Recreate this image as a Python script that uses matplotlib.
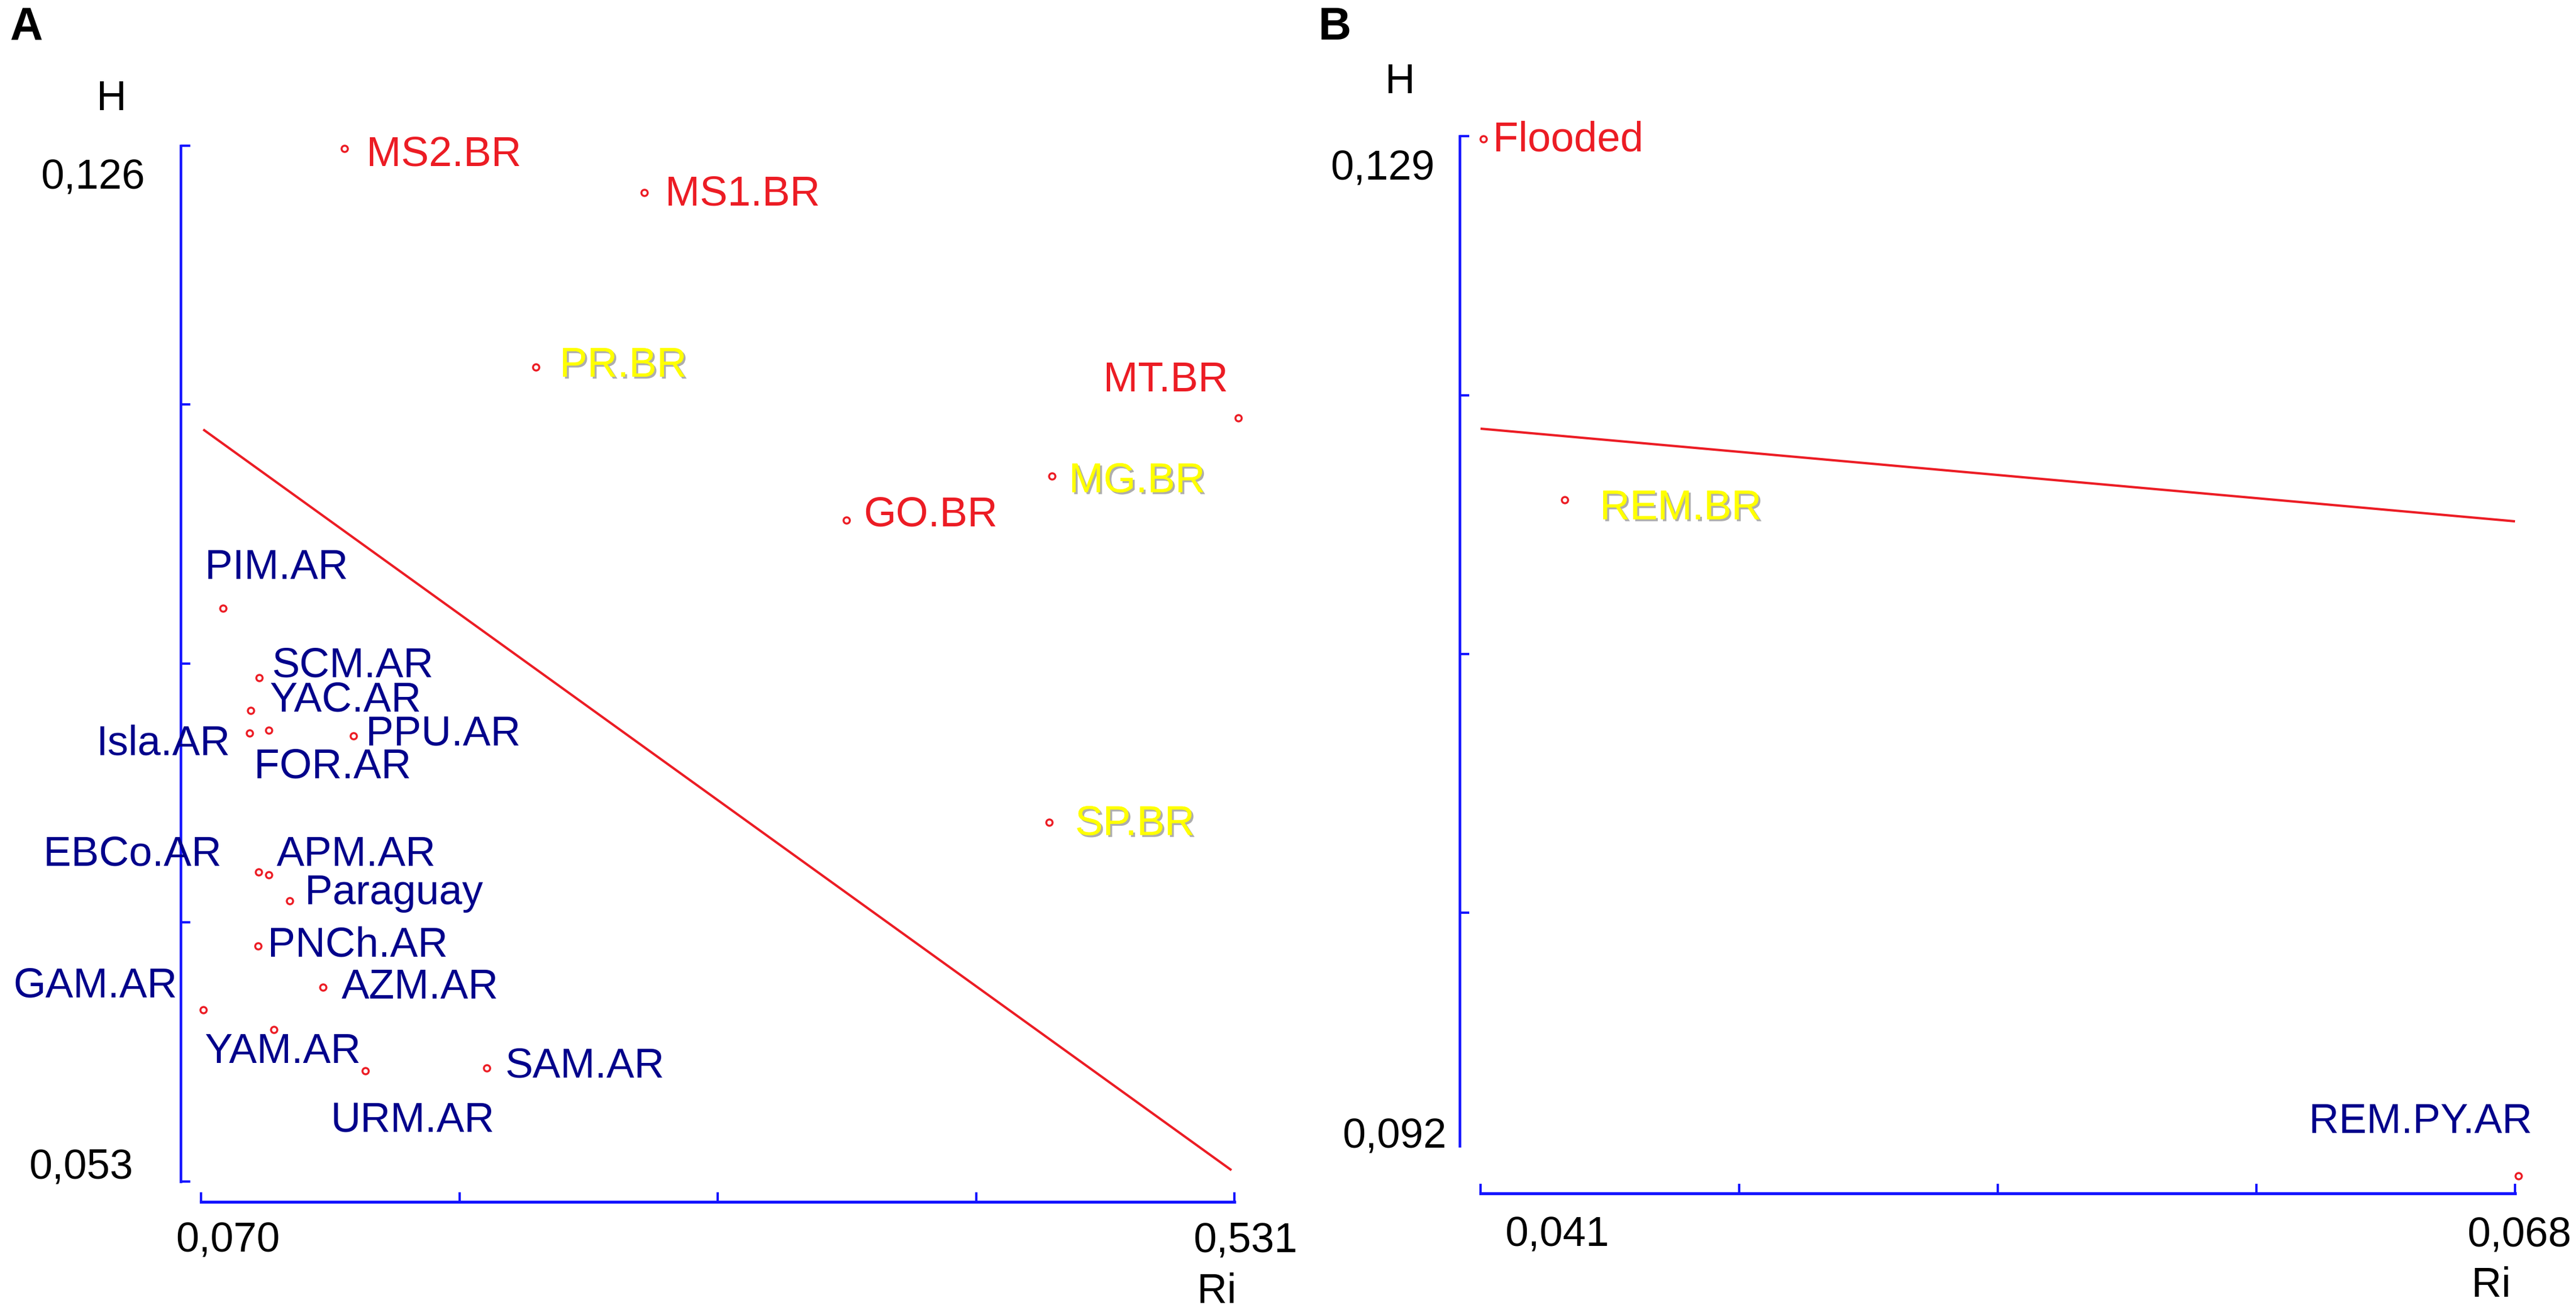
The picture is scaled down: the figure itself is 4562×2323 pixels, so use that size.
import matplotlib
matplotlib.use("Agg")
import matplotlib.pyplot as plt
import matplotlib.patheffects as pe
import numpy as np

# ---------------- data ----------------
A_sites = ['MS2.BR', 'MS1.BR', 'PR.BR', 'MT.BR', 'MG.BR', 'GO.BR', 'SP.BR',
           'PIM.AR', 'SCM.AR', 'YAC.AR', 'Isla.AR', 'FOR.AR', 'PPU.AR',
           'EBCo.AR', 'APM.AR', 'Paraguay', 'PNCh.AR', 'AZM.AR', 'GAM.AR',
           'YAM.AR', 'URM.AR', 'SAM.AR']
A_Ri = [0.1340, 0.2678, 0.2194, 0.5328, 0.4496, 0.3579, 0.4484,
        0.0798, 0.0959, 0.0922, 0.0917, 0.1002, 0.1380,
        0.0957, 0.1002, 0.1096, 0.0954, 0.1244, 0.0710,
        0.1025, 0.1433, 0.1975]
A_H = [0.1258, 0.1227, 0.1104, 0.1068, 0.1027, 0.0996, 0.0783,
       0.0934, 0.0885, 0.0862, 0.0846, 0.0848, 0.0844,
       0.0748, 0.0746, 0.0728, 0.0696, 0.0667, 0.0651,
       0.0637, 0.0608, 0.0610]
A_group = ['BR1', 'BR1', 'BR2', 'BR1', 'BR2', 'BR1', 'BR2',
           'AR', 'AR', 'AR', 'AR', 'AR', 'AR',
           'AR', 'AR', 'AR', 'AR', 'AR', 'AR',
           'AR', 'AR', 'AR']
A_fit_Ri = [0.0710, 0.5297]
A_fit_H = [0.1060, 0.0538]
A_xlim = (0.070, 0.531)
A_ylim = (0.053, 0.126)
A_xtick_labels = ['0,070', '0,531']
A_ytick_labels = ['0,126', '0,053']

B_sites = ['Flooded', 'REM.BR', 'REM.PY.AR']
B_Ri = [0.04107, 0.04320, 0.06809]
B_H = [0.1289, 0.1160, 0.09186]
B_group = ['BR1', 'BR2', 'AR']
B_fit_Ri = [0.041, 0.0680]
B_fit_H = [0.11855, 0.11524]
B_xlim = (0.041, 0.068)
B_ylim = (0.092, 0.129)
B_xtick_labels = ['0,041', '0,068']
B_ytick_labels = ['0,129', '0,092']

# ---------------- layout / style ----------------
W, H = 4562, 2323
DPI = 100
PT = 72.0 / DPI  # points per pixel
FONT = 'Liberation Sans'
FS = 53
BLUE = '#1414ff'
RED = '#ec1c24'
NAVY = '#00008b'
YELLOW = '#ffff00'
colors = {'BR1': RED, 'BR2': YELLOW, 'AR': NAVY}

A_off = [(39, 30), (37, 23), (42, 17), (-239, -47), (30, 28), (30, 10), (46, 22),
         (-32, -52), (23, -2), (33, 2), (-272, 38), (-26, 84), (22, 17),
         (-381, -12), (14, -16), (27, 6), (17, 19), (33, 20), (-337, -23),
         (-123, 59), (-62, 108), (32, 16)]
B_off = [(17, 22), (62, 34), (-371, -76)]

fig = plt.figure(figsize=(W / DPI, H / DPI), dpi=DPI)
fig.patch.set_facecolor('white')


def make_axes(px0, px1, py_top, py_bot):
    return fig.add_axes([px0 / W, (H - py_bot) / H, (px1 - px0) / W, (py_bot - py_top) / H])


def style_axes(ax, xlim, ylim, left_out, bottom_out, ybounds, yticks, xticks):
    ax.set_xlim(*xlim)
    ax.set_ylim(*ylim)
    ax.patch.set_alpha(0)
    for s in ('top', 'right'):
        ax.spines[s].set_visible(False)
    ax.spines['left'].set_position(('outward', left_out * PT))
    ax.spines['bottom'].set_position(('outward', bottom_out * PT))
    ax.spines['left'].set_bounds(*ybounds)
    ax.spines['bottom'].set_bounds(*xlim)
    ax.spines['left'].set_linewidth(3.3)
    ax.spines['bottom'].set_linewidth(3.8)
    for s in ('left', 'bottom'):
        ax.spines[s].set_color(BLUE)
    ax.set_yticks(yticks)
    ax.set_xticks(xticks)
    ax.tick_params(direction='in', length=17 * PT, width=3.0, color=BLUE,
                   labelleft=False, labelbottom=False)


def label(ax, x, y, text, dx, dy, color, ha='left', shadow=False, fs=FS):
    kw = {}
    if shadow:
        kw['path_effects'] = [pe.withSimplePatchShadow(offset=(2.5, -2.5), shadow_rgbFace='#777777', alpha=0.6),
                              pe.Normal()]
    ax.annotate(text, (x, y), xytext=(dx * PT, -dy * PT), textcoords='offset points',
                ha=ha, va='baseline', color=color, fontsize=fs, family=FONT,
                annotation_clip=False, **kw)


def draw_panel(ax, sites, ri, h, groups, offs, fit_x, fit_y):
    ax.plot(fit_x, fit_y, color=RED, lw=3.0, solid_capstyle='butt', clip_on=False, zorder=2)
    ax.plot(ri, h, linestyle='none', marker='o', ms=8, mfc='none', mec=RED, mew=2.5,
            clip_on=False, zorder=3)
    for s, x, y, g, (dx, dy) in zip(sites, ri, h, groups, offs):
        label(ax, x, y, s, dx, dy, colors[g], shadow=(g == 'BR2'))


# ---------------- panel A ----------------
axA = make_axes(356, 2186, 258, 2092)
style_axes(axA, A_xlim, A_ylim, 36, 36, A_ylim,
           np.linspace(A_ylim[0], A_ylim[1], 5), np.linspace(A_xlim[0], A_xlim[1], 5))
draw_panel(axA, A_sites, A_Ri, A_H, A_group, A_off, A_fit_Ri, A_fit_H)
label(axA, A_xlim[0], A_ylim[1], A_ytick_labels[0], -99, 77, 'black', ha='right')
label(axA, A_xlim[0], A_ylim[0], A_ytick_labels[1], -120, -5, 'black', ha='right')
label(axA, A_xlim[0], A_ylim[0], A_xtick_labels[0], 47, 124, 'black', ha='center')
label(axA, A_xlim[1], A_ylim[0], A_xtick_labels[1], 19, 124, 'black', ha='center')
label(axA, A_xlim[1], A_ylim[0], 'Ri', -66, 215, 'black')
label(axA, A_xlim[0], A_ylim[1], 'H', -185, -63, 'black')

# ---------------- panel B ----------------
axB = make_axes(2622, 4454, 241, 2075)
B_step = (B_ylim[1] - B_ylim[0]) / 4
B_spine_low = B_ylim[0] + (2075 - 2029) / 1834 * (B_ylim[1] - B_ylim[0])
style_axes(axB, B_xlim, B_ylim, 37, 38, (B_spine_low, B_ylim[1]),
           [B_ylim[1] - i * B_step for i in range(4)], np.linspace(B_xlim[0], B_xlim[1], 5))
draw_panel(axB, B_sites, B_Ri, B_H, B_group, B_off, B_fit_Ri, B_fit_H)
label(axB, B_xlim[0], B_ylim[1], B_ytick_labels[0], -81, 78, 'black', ha='right')
label(axB, B_xlim[0], B_ylim[0], B_ytick_labels[1], -60, -42, 'black', ha='right')
label(axB, B_xlim[0], B_ylim[0], B_xtick_labels[0], 135, 132, 'black', ha='center')
label(axB, B_xlim[1], B_ylim[0], B_xtick_labels[1], 7, 132, 'black', ha='center')
label(axB, B_xlim[1], B_ylim[0], 'Ri', -77, 221, 'black')
label(axB, B_xlim[0], B_ylim[1], 'H', -169, -76, 'black')

# panel letters
fig.text(18 / W, 1 - 70 / H, 'A', fontsize=58, fontweight='bold', family=FONT,
         ha='left', va='baseline', color='black')
fig.text(2335 / W, 1 - 70 / H, 'B', fontsize=58, fontweight='bold', family=FONT,
         ha='left', va='baseline', color='black')

fig.savefig('out.png', dpi=DPI, facecolor='white')
